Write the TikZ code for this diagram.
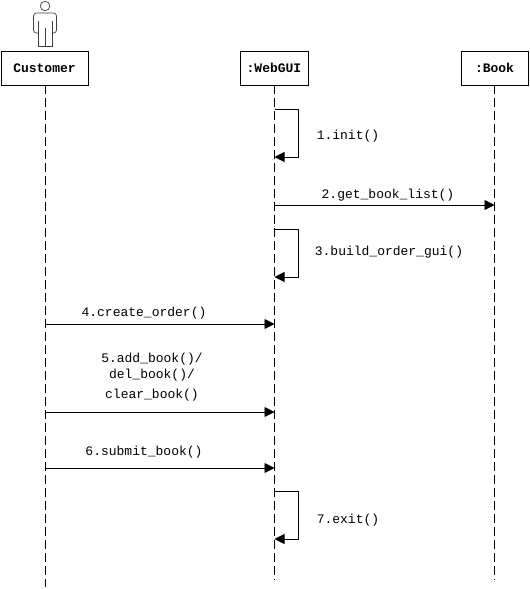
\documentclass[tikz,border=0pt]{standalone}
\usepackage{fontspec}
\setmainfont{Liberation Mono}
\usetikzlibrary{arrows.meta,positioning}
\tikzset{
  object/.style={draw,line width=0.8pt,minimum height=34pt,inner sep=0pt,font=\fontsize{13}{16}\selectfont\bfseries},
  lifeline/.style={line width=0.8pt,dash pattern=on 9pt off 4pt},
  message/.style={line width=0.9pt,-{Triangle[length=10pt,width=10pt]}},
  label/.style={inner sep=0pt,align=center,font=\fontsize{13}{16}\selectfont},
  actor/.style={line width=0.7pt,draw=black!75}
}
\begin{document}
\begin{tikzpicture}[x=1pt,y=-1pt]
  \useasboundingbox (0,0) rectangle (530,589);
  % objects
  \node (customer) [object,minimum width=87pt] at (44.5,68) {Customer};
  \node (webgui) [object,minimum width=68pt] at (274,68) {:WebGUI};
  \node (book) [object,minimum width=67pt] at (494.5,68) {:Book};
  % actor
  \node (head) [actor,draw,circle,minimum size=9.5pt,inner sep=0pt] at (45,6) {};
  \draw[actor,rounded corners=3pt] (38,33) -- (33.5,33) -- (33.5,13) -- (56.5,13) -- (56.5,33) -- (52,33);
  \draw[actor] (38,21) -- (38,46) -- (52,46) -- (52,21);
  \draw[actor] (45,28) -- (45,46);
  % lifelines
  \coordinate (customerEnd) at (45,587);
  \coordinate (webguiEnd) at (274.5,580);
  \coordinate (bookEnd) at (494.5,580);
  \draw[lifeline] (customer.south -| customerEnd) -- (customerEnd);
  \draw[lifeline] (webgui.south -| webguiEnd) -- (webguiEnd);
  \draw[lifeline] (book.south) -- (bookEnd);
  % message end points
  \coordinate (init) at (274.5,109);
  \coordinate (initBack) at (274.5,157);
  \coordinate (getWeb) at (274.5,205);
  \coordinate (getBook) at (494.5,205);
  \coordinate (build) at (274.5,229);
  \coordinate (buildBack) at (274.5,277);
  \coordinate (createCust) at (45,324);
  \coordinate (createWeb) at (274.5,324);
  \coordinate (addCust) at (45,412);
  \coordinate (addWeb) at (274.5,412);
  \coordinate (submitCust) at (45,468);
  \coordinate (submitWeb) at (274.5,468);
  \coordinate (exit) at (274.5,491);
  \coordinate (exitBack) at (274.5,539);
  % messages
  \draw[message] (init) -- ++(23.5,0) |- (initBack);
  \draw[message] (getWeb) -- (getBook);
  \draw[message] (build) -- ++(23.5,0) |- (buildBack);
  \draw[message] (createCust) -- (createWeb);
  \draw[message] (addCust) -- (addWeb);
  \draw[message] (submitCust) -- (submitWeb);
  \draw[message] (exit) -- ++(23.5,0) |- (exitBack);
  % labels
  \node (initLabel) [label] at (348,136) {1.init()};
  \node (getLabel) [label] at (388,195) {2.get\_book\_list()};
  \node (buildLabel) [label] at (389,252) {3.build\_order\_gui()};
  \node (createLabel) [label] at (144,313) {4.create\_order()};
  \node (addLabel) [label] at (152,377) {5.add\_book()/\\del\_book()/\\[4pt]clear\_book()};
  \node (submitLabel) [label] at (144,452) {6.submit\_book()};
  \node (exitLabel) [label] at (348,520) {7.exit()};
\end{tikzpicture}
\end{document}
